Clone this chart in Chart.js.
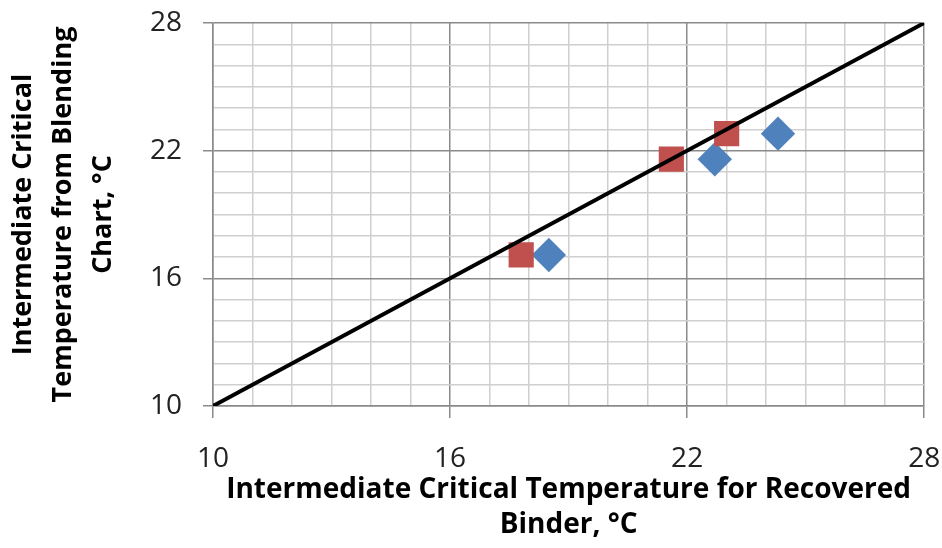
<!DOCTYPE html>
<html>
<head>
<meta charset="utf-8">
<script src="https://cdn.jsdelivr.net/npm/chart.js@4"></script>
<style>
  body { margin: 0; background: #fff; }
  #wrap { width: 942px; height: 548px; }
</style>
</head>
<body>
<div id="wrap"><canvas id="chart" width="942" height="548"></canvas></div>
<script>
// values
const redX = [17.8, 21.6, 23.0];
const redY = [17.1, 21.6, 22.8];
const blueX = [18.5, 22.7, 24.3];
const blueY = [17.1, 21.6, 22.8];
const lineX = [10, 28];
const lineY = [10, 28];
const majorTicks = [10, 16, 22, 28];

const xTitle = ["Intermediate Critical Temperature for Recovered", "Binder, °C"];
const yTitle = ["Intermediate Critical", "Temperature from Blending", "Chart, °C"];

function toPoints(xs, ys) {
  return xs.map((x, i) => ({ x: x, y: ys[i] }));
}

const isMajor = (v) => majorTicks.includes(v);
const gridColor = (c) => (isMajor(c.tick.value) ? "#8a8a8a" : "#cfcfcf");
const tickColor = (c) => (isMajor(c.tick.value) ? "#8a8a8a" : "rgba(0,0,0,0)");
const tickLabel = (v) => (isMajor(v) ? String(v) : "");

new Chart(document.getElementById("chart"), {
  type: "scatter",
  data: {
    datasets: [
      {
        type: "line",
        data: toPoints(lineX, lineY),
        borderColor: "#000",
        borderWidth: 4,
        pointRadius: 0,
        order: 0,
      },
      {
        data: toPoints(redX, redY),
        pointStyle: "rect",
        pointRadius: 17.8,
        backgroundColor: "#C0504D",
        borderColor: "#C0504D",
        borderWidth: 0,
        order: 1,
      },
      {
        data: toPoints(blueX, blueY),
        pointStyle: "rectRot",
        pointRadius: 17.2,
        backgroundColor: "#4F81BD",
        borderColor: "#4F81BD",
        borderWidth: 0,
        order: 2,
      },
    ],
  },
  options: {
    responsive: false,
    animation: false,
    layout: { padding: { top: 23, right: 17, left: 0, bottom: 0 } },
    plugins: { legend: { display: false }, tooltip: { enabled: false } },
    scales: {
      x: {
        type: "linear",
        min: 10,
        max: 28,
        afterFit: (s) => {
          s.height = 142;
          s.paddingLeft = 0;
          s.paddingRight = 0;
        },
        border: { color: "#8a8a8a", width: 1.5 },
        grid: { color: gridColor, tickColor: tickColor, lineWidth: 1.5, tickLength: 12 },
        ticks: {
          stepSize: 1,
          autoSkip: false,
          maxRotation: 0,
          padding: 24,
          callback: tickLabel,
          color: "#222",
          font: { family: "Open Sans", size: 28 },
        },
        title: {
          display: true,
          text: xTitle,
          color: "#000",
          padding: { top: 0, bottom: 5 },
          font: { family: "Open Sans", size: 28, weight: "bold", lineHeight: 35 / 28 },
        },
      },
      y: {
        type: "linear",
        min: 10,
        max: 28,
        afterFit: (s) => {
          s.width = 213;
          s.paddingTop = 0;
          s.paddingBottom = 0;
        },
        border: { color: "#8a8a8a", width: 1.5 },
        grid: { color: gridColor, tickColor: tickColor, lineWidth: 1.5, tickLength: 10 },
        ticks: {
          stepSize: 1,
          autoSkip: false,
          padding: 21,
          callback: tickLabel,
          color: "#222",
          font: { family: "Open Sans", size: 28 },
        },
        title: {
          display: true,
          text: yTitle,
          color: "#000",
          padding: { top: 3, bottom: 0 },
          font: { family: "Open Sans", size: 27, weight: "bold", lineHeight: 40 / 27 },
        },
      },
    },
  },
});
</script>
</body>
</html>
